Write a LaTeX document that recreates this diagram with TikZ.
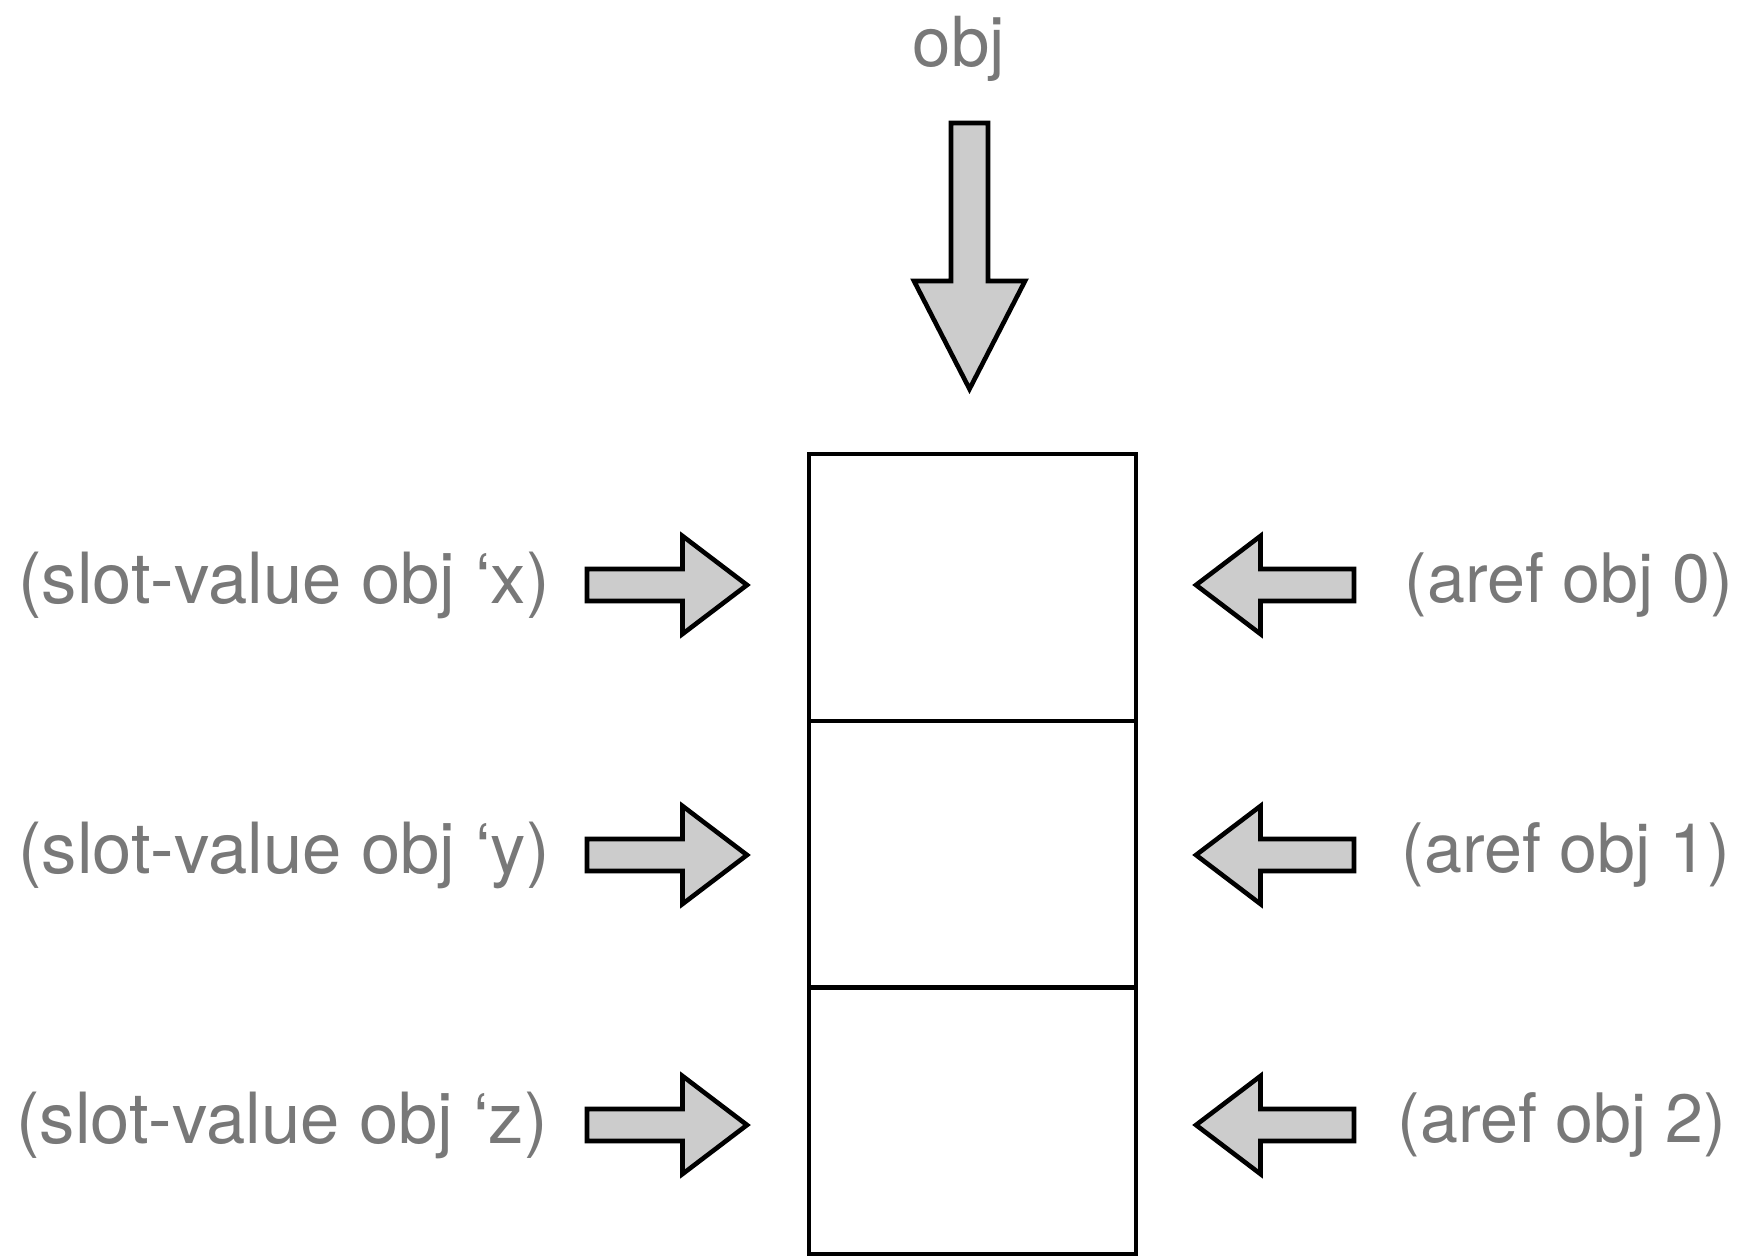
\documentclass[tikz,border=0pt]{standalone}
\usepackage{fontspec}
\setmainfont{TeX Gyre Heros}
\usetikzlibrary{calc}
\definecolor{labelgray}{RGB}{120,120,120}
\definecolor{arrowgray}{RGB}{204,204,204}
\begin{document}
\begin{tikzpicture}[x=0.5pt,y=-0.5pt,
  cell/.style={draw, line width=2.25pt, minimum width=163.5pt, minimum height=133.4pt, inner sep=0pt},
  lbl/.style={text=labelgray, font=\fontsize{34.5pt}{40pt}\selectfont, inner sep=0pt},
  slotlbl/.style={lbl, font=\fontsize{35.3pt}{40pt}\selectfont},
  areflbl/.style={lbl, font=\fontsize{34.1pt}{40pt}\selectfont},
  blockarrow/.style={draw=black, line width=2.3pt, fill=arrowgray, line join=miter},
  % block arrow pointing along +x with its tip at the origin:
  % #1 total length, #2 head length, #3 half shaft width, #4 half head width
  pics/fatarrow/.style n args={4}{code={
    \draw[blockarrow] (0,0) -- (-#2,#4) -- (-#2,#3) -- (-#1,#3) -- (-#1,-#3)
      -- (-#2,-#3) -- (-#2,-#4) -- cycle;
  }}]
\useasboundingbox (0,0) rectangle (1743,1256);

% the three stacked cells
\node[cell] (c0) at (972.5,587.4) {};
\node[cell] (c1) at (972.5,854.2) {};
\node[cell] (c2) at (972.5,1121.0) {};

% labels
\node[lbl, anchor=base] (top) at (959,67) {obj};
\node[slotlbl, anchor=east] (sx) at (550,585) {(slot-value obj ‘x)};
\node[slotlbl, anchor=east] (sy) at (550,855) {(slot-value obj ‘y)};
\node[slotlbl, anchor=east] (sz) at (548,1125) {(slot-value obj ‘z)};
\node[areflbl, anchor=west] (r0) at (1404,585) {(aref obj 0)};
\node[areflbl, anchor=west] (r1) at (1401,855) {(aref obj 1)};
\node[areflbl, anchor=west] (r2) at (1397,1125) {(aref obj 2)};

% arrow tips
\coordinate (tt) at (969.5,389);
\coordinate (tx) at (747,585);
\coordinate (ty) at (747,855);
\coordinate (tz) at (747,1125);
\coordinate (t0) at (1196,585);
\coordinate (t1) at (1196,855);
\coordinate (t2) at (1196,1125);

% block arrows
\pic[rotate=-90] at (tt) {fatarrow={266}{108}{18.5}{55.5}};
\pic at (tx) {fatarrow={160}{64.5}{16}{49}};
\pic at (ty) {fatarrow={160}{64.5}{16}{49}};
\pic at (tz) {fatarrow={160}{64.5}{16}{49}};
\pic[rotate=180] at (t0) {fatarrow={158}{64.5}{16}{49}};
\pic[rotate=180] at (t1) {fatarrow={158}{64.5}{16}{49}};
\pic[rotate=180] at (t2) {fatarrow={158}{64.5}{16}{49}};
\end{tikzpicture}
\end{document}
